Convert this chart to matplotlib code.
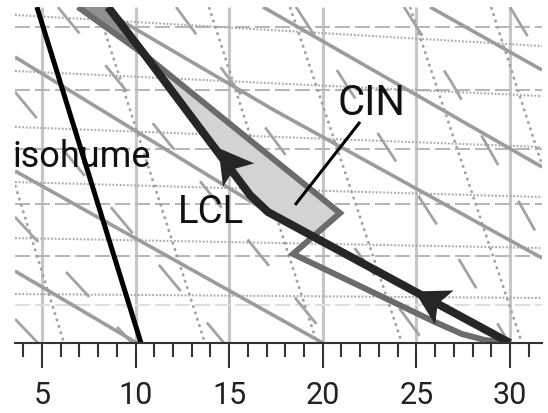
import math

import matplotlib

matplotlib.use("Agg")
import matplotlib.pyplot as plt
from matplotlib.markers import MarkerStyle
from matplotlib.path import Path
from matplotlib.ticker import NullLocator
from matplotlib.transforms import Affine2D

plt.rcParams.update({
    "font.family": ["Roboto", "DejaVu Sans"],
    "lines.scale_dashes": False,
    "lines.solid_capstyle": "butt",
})

# ---------------------------------------------------------------- data (T degC, p hPa)
T_MIN, T_MAX = 3.56, 31.71
P_BOT, P_TOP = 990.5, 684.7

ISOTHERMS = [5, 10, 15, 20, 25, 30]
MINOR_T = list(range(4, 32))
ISOBARS = [700, 750, 800, 850, 900]
ISOBAR_LIGHT = 950

# dotted height lines: pressure where they meet the left / right edge
HEIGHT_P_LEFT = [690.7, 734.6, 781.2, 829.9, 882.6, 938.6]
HEIGHT_P_RIGHT = [714.7, 755.1, 798.6, 843.7, 892.3, 942.7]

DRY_ADIABATS = [
    ([3.56, 10.07], [915.2, 990.5]),
    ([3.56, 20.01], [819.9, 990.5]),
    ([3.56, 17.07, 30.0], [723.4, 857.7, 990.5]),
    ([7.99, 17.39, 31.71], [684.7, 766.8, 902.2]),
    ([16.81, 31.71], [684.7, 816.3]),
    ([25.73, 31.71], [684.7, 733.8]),
]

MOIST_ADIABATS = [
    ([3.56, 4.79], [964.7, 990.5]),
    ([3.56, 9.81], [862.4, 990.5]),
    ([3.56, 14.72], [751.7, 990.5]),
    ([5.85, 20.49], [684.7, 990.5]),
    ([12.16, 18.57, 25.46], [684.7, 818.1, 990.5]),
    ([18.57, 27.01, 29.95], [684.7, 895.3, 990.5]),
    ([24.34, 26.90, 31.71], [684.7, 744.3, 887.4]),
    ([30.0, 31.71], [684.7, 725.8]),
]

ISOHUMES = [
    ([3.56, 6.18], [832.6, 990.5]),
    ([7.94, 13.71], [684.7, 990.5]),
    ([13.92, 19.69], [684.7, 990.5]),
    ([18.25, 24.23], [684.7, 990.5]),
    ([24.66, 30.64], [684.7, 990.5]),
    ([28.99, 31.71], [684.7, 814.5]),
]
ISOHUME_BOLD_T = [4.73, 10.29]
ISOHUME_BOLD_P = [684.7, 990.5]

ENV_T = [6.92, 10.50, 20.92, 18.41, 25.99, 27.44, 28.66, 30.0]
ENV_P = [684.7, 721.8, 858.7, 898.2, 967.9, 980.8, 987.3, 990.5]

PARCEL_T = [8.53, 10.50, 16.11, 17.07, 30.0]
PARCEL_P = [684.7, 721.8, 841.8, 857.7, 990.5]

# lowest corner of the CIN area (env meets parcel dry adiabat)
CIN_LOW = (19.48, 880.6)

# arrow centres on the parcel path, with the parcel segment they sit on
ARROWS = [((25.67, 943.8), 3), ((14.94, 811.0), 1)]

LABEL_ISOHUME = (3.45, 816.3)
LABEL_LCL = (12.26, 868.1)
LABEL_CIN = (20.76, 771.0)
CIN_LEADER_T = [21.99, 18.52]
CIN_LEADER_P = [776.9, 851.1]

# ---------------------------------------------------------------- figure
fig = plt.figure(figsize=(5.48, 4.13), dpi=100)
ax = fig.add_axes([15 / 548, 70 / 413, 527 / 548, 336 / 413])
ax.set_yscale("log")
ax.set_xlim(T_MIN, T_MAX)
ax.set_ylim(P_BOT, P_TOP)

for t in ISOTHERMS:
    ax.plot([t, t], [P_BOT, P_TOP], color="#c6c6c6", lw=2.2, zorder=1)

for p in ISOBARS:
    ax.plot([T_MIN, T_MAX], [p, p], color="#b6b6b6", lw=1.4, dashes=(10.8, 3.6), zorder=1)
ax.plot([T_MIN, T_MAX], [ISOBAR_LIGHT] * 2, color="#dedede", lw=1.4, dashes=(10.8, 3.6), zorder=1)

for pl, pr in zip(HEIGHT_P_LEFT, HEIGHT_P_RIGHT):
    ax.plot([T_MIN, T_MAX], [pl, pr], color="#aaaaaa", lw=1.5, dashes=(1.3, 1.3), zorder=1)

for ts, ps in ISOHUMES:
    ax.plot(ts, ps, color="#a0a0a0", lw=1.8, dashes=(2.0, 2.8), zorder=1.2)

for ts, ps in MOIST_ADIABATS:
    ax.plot(ts, ps, color="#a3a3a3", lw=2.0, dashes=(24.5, 29.5), zorder=1.3)

for ts, ps in DRY_ADIABATS:
    ax.plot(ts, ps, color="#9c9c9c", lw=2.6, zorder=1.4)

ax.plot(ISOHUME_BOLD_T, ISOHUME_BOLD_P, color="black", lw=3.6, zorder=3)

# CIN (parcel colder than environment) and the small positive area above
cin_t = ENV_T[1:3] + [CIN_LOW[0]] + PARCEL_T[3:0:-1]
cin_p = ENV_P[1:3] + [CIN_LOW[1]] + PARCEL_P[3:0:-1]
ax.fill(cin_t, cin_p, color="#d3d3d3", lw=0, zorder=2)
cape_t = ENV_T[0:2] + PARCEL_T[1::-1]
cape_p = ENV_P[0:2] + PARCEL_P[1::-1]
ax.fill(cape_t, cape_p, color="#8f8f8f", lw=0, zorder=2)

ax.plot(ENV_T, ENV_P, color="#6b6b6b", lw=4.3, solid_joinstyle="miter", zorder=4)
ax.plot(PARCEL_T, PARCEL_P, color="#262626", lw=5.8, solid_joinstyle="miter", zorder=5)

# stealth arrow heads along the parcel path
head = Path([(1, 0), (-1, 1.15), (-0.55, 0), (-1, -1.15), (1, 0)],
            [Path.MOVETO, Path.LINETO, Path.LINETO, Path.LINETO, Path.CLOSEPOLY])
for (t, p), seg in ARROWS:
    a = ax.transData.transform((PARCEL_T[seg + 1], PARCEL_P[seg + 1]))
    b = ax.transData.transform((PARCEL_T[seg], PARCEL_P[seg]))
    ang = math.degrees(math.atan2(b[1] - a[1], b[0] - a[0]))
    mk = MarkerStyle(head, transform=Affine2D().rotate_deg(ang))
    ax.plot([t], [p], marker=mk, ms=28, color="#262626", mec="none", zorder=6)

ax.plot(CIN_LEADER_T, CIN_LEADER_P, color="black", lw=2.2, zorder=6)

ax.text(*LABEL_ISOHUME, "isohume", fontsize=26, color="#111111", ha="left", va="baseline",
        zorder=2.5, clip_on=True)
ax.text(*LABEL_LCL, "LCL", fontsize=27.5, color="#111111", ha="left", va="baseline", zorder=7)
ax.text(*LABEL_CIN, "CIN", fontsize=30, color="#111111", ha="left", va="baseline", zorder=7)

# axes styling
for side in ("left", "right", "top"):
    ax.spines[side].set_visible(False)
ax.spines["bottom"].set_color("#333333")
ax.spines["bottom"].set_linewidth(1.5)
ax.spines["bottom"].set_zorder(8)
ax.set_xticks(ISOTHERMS)
ax.set_xticklabels([str(t) for t in ISOTHERMS])
ax.set_xticks(MINOR_T, minor=True)
ax.tick_params(axis="x", which="major", direction="out", length=18, width=1.5,
               color="#333333", labelsize=22, labelcolor="#222222", pad=9)
ax.tick_params(axis="x", which="minor", direction="out", length=10, width=1.5, color="#333333")
ax.yaxis.set_major_locator(NullLocator())
ax.yaxis.set_minor_locator(NullLocator())
ax.tick_params(axis="y", which="both", left=False, labelleft=False)

fig.savefig("out.png", dpi=100)
